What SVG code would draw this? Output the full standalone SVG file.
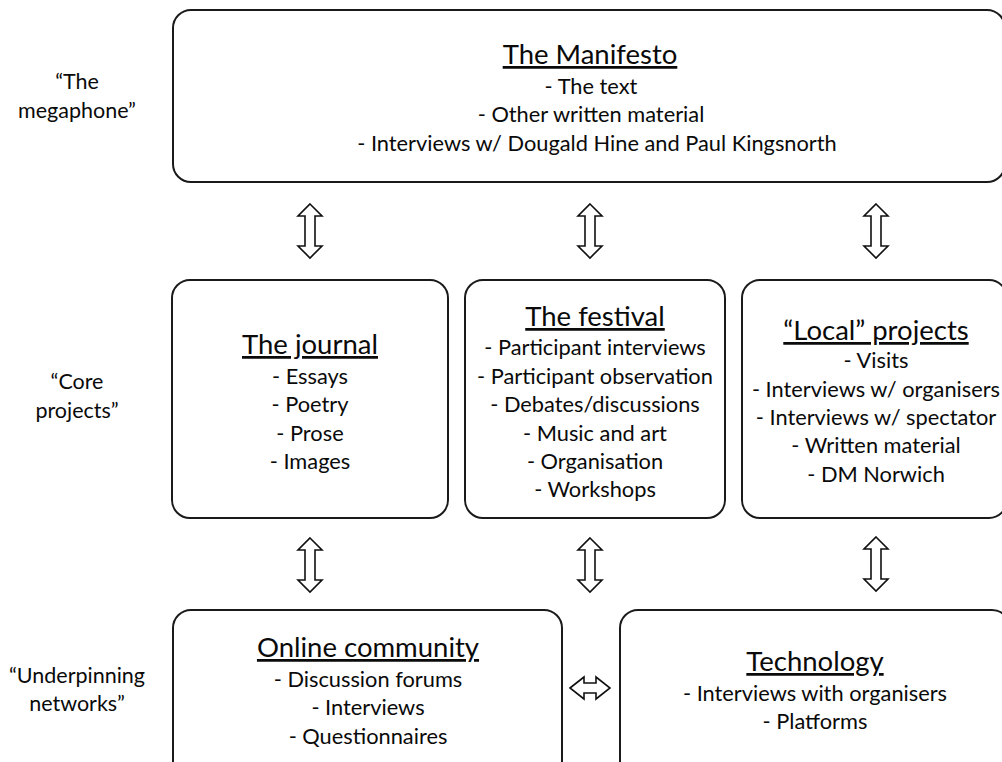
<svg xmlns="http://www.w3.org/2000/svg" width="1002" height="762" viewBox="0 0 1002 762">
<style>
.box{fill:#fff;stroke:#1a1a1a;stroke-width:2}
text{font-family:Lato,"Open Sans",sans-serif;fill:#0a0a0a;text-anchor:middle}
.t{font-size:27.5px;text-decoration:underline}
.i{font-size:21.8px}
.l{font-size:21.5px}
.arr{fill:#fff;stroke:#111;stroke-width:1.6;stroke-linejoin:miter}
</style>
<defs>
<path id="va" d="M0,-27 L12,-15 L5,-15 L5,15 L12,15 L0,27 L-12,15 L-5,15 L-5,-15 L-12,-15 Z"/>
<path id="ha" d="M-20,0 L-6,-11 L-6,-5 L6,-5 L6,-11 L20,0 L6,11 L6,5 L-6,5 L-6,11 Z"/>
</defs>
<rect width="1002" height="762" fill="#fff"/>
<g id="labels">
<text class="l" x="77" y="89">“The</text>
<text class="l" x="77" y="118">megaphone”</text>
<text class="l" x="77" y="389">“Core</text>
<text class="l" x="77" y="418">projects”</text>
<text class="l" x="77" y="683">“Underpinning</text>
<text class="l" x="77" y="711">networks”</text>
</g>
<g id="manifesto">
<rect class="box" x="173" y="10" width="832" height="172" rx="18"/>
<text class="t" x="590" y="64">The Manifesto</text>
<text class="i" x="591" y="94">- The text</text>
<text class="i" x="591" y="122">- Other written material</text>
<text class="i" x="597" y="151">- Interviews w/ Dougald Hine and Paul Kingsnorth</text>
</g>
<g id="journal">
<rect class="box" x="172" y="280" width="276" height="238" rx="18"/>
<text class="t" x="310" y="354">The journal</text>
<text class="i" x="310" y="384">- Essays</text>
<text class="i" x="310" y="412">- Poetry</text>
<text class="i" x="310" y="441">- Prose</text>
<text class="i" x="310" y="469">- Images</text>
</g>
<g id="festival">
<rect class="box" x="465" y="280" width="260" height="238" rx="18"/>
<text class="t" x="595" y="326">The festival</text>
<text class="i" x="595" y="355">- Participant interviews</text>
<text class="i" x="595" y="384">- Participant observation</text>
<text class="i" x="595" y="412">- Debates/discussions</text>
<text class="i" x="595" y="441">- Music and art</text>
<text class="i" x="595" y="469">- Organisation</text>
<text class="i" x="595" y="497">- Workshops</text>
</g>
<g id="local">
<rect class="box" x="742" y="280" width="265" height="238" rx="18"/>
<text class="t" x="876" y="340">“Local” projects</text>
<text class="i" x="876" y="368">- Visits</text>
<text class="i" x="876" y="397">- Interviews w/ organisers</text>
<text class="i" x="876" y="425">- Interviews w/ spectator</text>
<text class="i" x="876" y="453">- Written material</text>
<text class="i" x="876" y="482">- DM Norwich</text>
</g>
<g id="online">
<rect class="box" x="173" y="610" width="389" height="170" rx="18"/>
<text class="t" x="368" y="657">Online community</text>
<text class="i" x="368" y="687">- Discussion forums</text>
<text class="i" x="368" y="715">- Interviews</text>
<text class="i" x="368" y="744">- Questionnaires</text>
</g>
<g id="technology">
<rect class="box" x="620" y="610" width="390" height="170" rx="18"/>
<text class="t" x="815" y="671">Technology</text>
<text class="i" x="815" y="701">- Interviews with organisers</text>
<text class="i" x="815" y="729">- Platforms</text>
</g>
<g id="connectors">
<use href="#va" class="arr" x="310" y="231"/>
<use href="#va" class="arr" x="590" y="231"/>
<use href="#va" class="arr" x="876" y="231"/>
<use href="#va" class="arr" x="310" y="565"/>
<use href="#va" class="arr" x="590" y="565"/>
<use href="#va" class="arr" x="876" y="564"/>
<use href="#ha" class="arr" x="590" y="688"/>
</g>
</svg>
